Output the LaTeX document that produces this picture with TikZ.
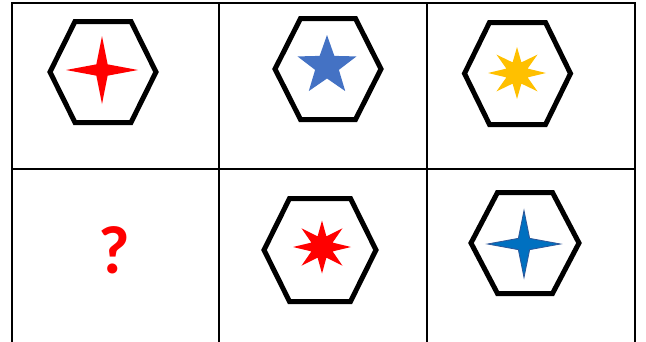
\documentclass[tikz,border=0pt]{standalone}
\usepackage{fontspec}
\newfontfamily\qfont{Carlito}
\tikzset{
  gridline/.style={line width=2pt, black},
  hexline/.style={line width=5pt, black, miter limit=10},
  pics/hexa/.style args={#1/#2/#3}{code={
    \draw[hexline] (-#1,0) -- (-#2,#3) -- (#2,#3) -- (#1,0) -- (#2,-#3) -- (-#2,-#3) -- cycle;
  }},
  pics/spiky/.style args={#1/#2/#3/#4/#5/#6}{code={
    \pgfmathtruncatemacro\npts{2*#1-1}
    \path[#5] (#6:#2pt and #3pt)
      \foreach \k [evaluate=\k as \rx using {mod(\k,2)==1?#4:#2},
                   evaluate=\k as \ry using {mod(\k,2)==1?#4:#3}] in {1,...,\npts}
        { -- ({#6+\k*180/#1}:\rx pt and \ry pt) } -- cycle;
  }},
}
\definecolor{starblue}{HTML}{4472C4}
\definecolor{stargold}{HTML}{FFC000}
\definecolor{deepblue}{HTML}{0070C0}
\definecolor{edgeblue}{HTML}{2F5597}
\begin{document}
\begin{tikzpicture}[x=1pt,y=-1pt]
  \useasboundingbox (0,0) rectangle (646,341);
  % grid
  \coordinate (tl) at (12,3);
  \coordinate (tr) at (635,3);
  \coordinate (ml) at (12,169);
  \coordinate (mr) at (635,169);
  \coordinate (c1t) at (219,3);
  \coordinate (c1b) at (219,345);
  \coordinate (c2t) at (427,3);
  \coordinate (c2b) at (427,345);
  \coordinate (bl) at (12,345);
  \coordinate (br) at (635,345);
  \draw[gridline] (bl) -- (tl) -- (tr) -- (br);
  \draw[gridline] (ml) -- (mr);
  \draw[gridline] (c1t) -- (c1b);
  \draw[gridline] (c2t) -- (c2b);
  % row 1
  \pic (h1) at (103,72) {hexa={53/28/50.5}};
  \pic (s1) at (102,70) {spiky={4/36/34/8/{fill=red}/90}};
  \pic (h2) at (328,69) {hexa={53/27.5/50.5}};
  \pic (s2) at (327,66) {spiky={5/31/31/12.5/{fill=starblue}/90}};
  \pic (h3) at (517.5,73.5) {hexa={53/28/51}};
  \pic (s3) at (517,73) {spiky={8/29/26/11.5/{fill=stargold}/90}};
  % row 2
  \node[font=\qfont\bfseries\fontsize{68}{68}\selectfont, text=red, inner sep=0] (q) at (114,250) {?};
  \pic (h5) at (320,250) {hexa={56/30.5/51.5}};
  \pic (s5) at (322,247) {spiky={8/29/26.5/11.5/{fill=red}/90}};
  \pic (h6) at (525,243) {hexa={54/27.5/50.5}};
  \pic (s6) at (524,244) {spiky={4/36.5/33.5/8/{fill=deepblue, draw=edgeblue, line width=0.8pt}/90}};
\end{tikzpicture}
\end{document}
